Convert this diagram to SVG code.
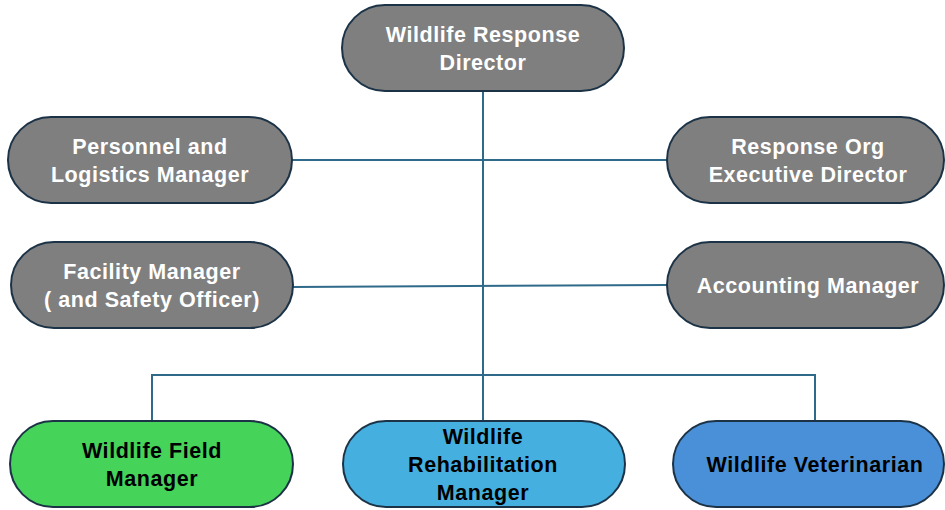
<svg xmlns="http://www.w3.org/2000/svg" width="945" height="510" viewBox="0 0 945 510">
<style>
.box{stroke:#1c3347;stroke-width:2}
.gray{fill:#7f7f7f}
.t{font-family:"Liberation Sans",Arial,sans-serif;font-weight:bold;font-size:21.5px;letter-spacing:0.55px;text-anchor:middle}
.w{fill:#ffffff}
.k{fill:#000000}
.c{stroke:#2f6a8a;stroke-width:2;fill:none}
</style>
<rect width="945" height="510" fill="#ffffff"/>
<g id="connectors">
<line class="c" x1="483" y1="91" x2="483" y2="422"/>
<line class="c" x1="292" y1="160" x2="667" y2="160"/>
<line class="c" x1="293" y1="287" x2="667" y2="285"/>
<polyline class="c" points="152,421 152,375 815,375 815,421"/>
</g>
<g id="director">
<rect class="box gray" x="342" y="5" width="282" height="86" rx="43"/>
<text class="t w" x="483" y="42">Wildlife Response</text>
<text class="t w" x="483" y="70">Director</text>
</g>
<g id="personnel">
<rect class="box gray" x="8" y="117" width="284" height="86" rx="43"/>
<text class="t w" x="150" y="154">Personnel and</text>
<text class="t w" x="150" y="182">Logistics Manager</text>
</g>
<g id="response-org">
<rect class="box gray" x="667" y="117" width="277" height="86" rx="43"/>
<text class="t w" x="808" y="154">Response Org</text>
<text class="t w" x="808" y="182">Executive Director</text>
</g>
<g id="facility">
<rect class="box gray" x="11" y="242" width="282" height="86" rx="43"/>
<text class="t w" x="152" y="279">Facility Manager</text>
<text class="t w" x="152" y="307">( and Safety Officer)</text>
</g>
<g id="accounting">
<rect class="box gray" x="667" y="242" width="277" height="86" rx="43"/>
<text class="t w" x="808" y="293">Accounting Manager</text>
</g>
<g id="field">
<rect class="box" fill="#45d35a" x="10" y="421" width="283" height="86" rx="43"/>
<text class="t k" x="152" y="458">Wildlife Field</text>
<text class="t k" x="152" y="486">Manager</text>
</g>
<g id="rehab">
<rect class="box" fill="#45b0e0" x="343" y="421" width="282" height="86" rx="43"/>
<text class="t k" x="483" y="444">Wildlife</text>
<text class="t k" x="483" y="472">Rehabilitation</text>
<text class="t k" x="483" y="500">Manager</text>
</g>
<g id="vet">
<rect class="box" fill="#4a90d9" x="673" y="421" width="271" height="86" rx="43"/>
<text class="t k" x="815" y="472">Wildlife Veterinarian</text>
</g>
</svg>
